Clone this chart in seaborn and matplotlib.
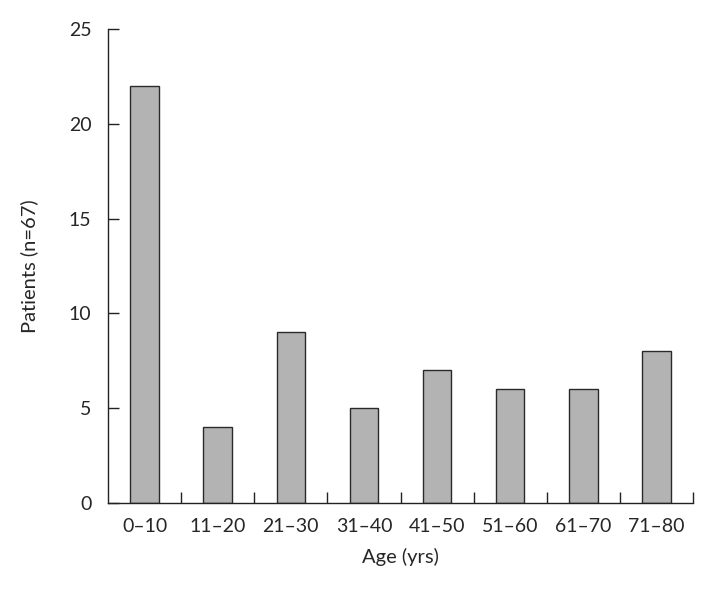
import numpy as np
import pandas as pd
import seaborn as sns
import matplotlib.pyplot as plt

# --- Data ---
age_groups = ["0\u201310", "11\u201320", "21\u201330", "31\u201340",
              "41\u201350", "51\u201360", "61\u201370", "71\u201380"]
patients = [22, 4, 9, 5, 7, 6, 6, 8]

df = pd.DataFrame({"Age": age_groups, "Patients": patients})

sns.set_style("ticks")
plt.rcParams["font.family"] = ["Lato", "DejaVu Sans"]

fig = plt.figure(figsize=(7.12, 5.89), dpi=100)
ax = fig.add_axes([0.1517, 0.146, 0.8216, 0.8048])

sns.barplot(data=df, x="Age", y="Patients", color="#b3b3b3",
            edgecolor="#2a2a2a", linewidth=1.0, width=0.39,
            saturation=1, ax=ax)

ax.set_xlim(-0.5, len(age_groups) - 0.5)
ax.set_ylim(0, 25)
ax.set_yticks(range(0, 26, 5))

# boundary ticks between categories
ax.set_xticks(np.arange(0.5, len(age_groups), 1), minor=True)
ax.tick_params(axis="x", which="major", length=0, pad=11, labelsize=14)
ax.tick_params(axis="x", which="minor", direction="in", length=8, width=1, color="#222")
ax.tick_params(axis="y", direction="in", length=8, width=1, pad=12, labelsize=14, color="#222")

ax.set_xlabel("Age (yrs)", fontsize=14.5, labelpad=9)
ax.set_ylabel("Patients (n=67)", fontsize=14.5, labelpad=22)

sns.despine(ax=ax)
for s in ["left", "bottom"]:
    ax.spines[s].set_linewidth(1.0)
    ax.spines[s].set_color("#222")

fig.savefig("out.png", dpi=100)
